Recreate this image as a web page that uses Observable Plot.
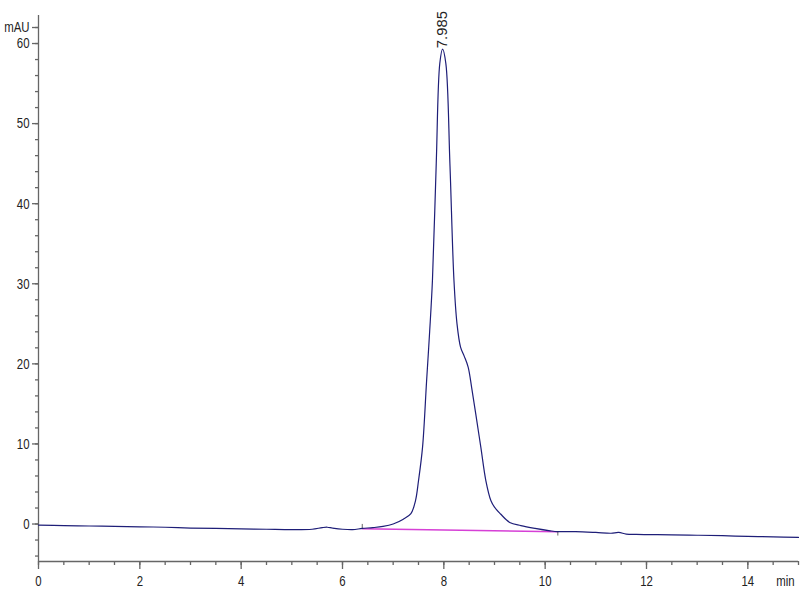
<!DOCTYPE html>
<html>
<head>
<meta charset="utf-8">
<script src="https://cdn.jsdelivr.net/npm/d3@7"></script>
<script src="https://cdn.jsdelivr.net/npm/@observablehq/plot@0.6"></script>
<style>
  html, body { margin: 0; padding: 0; background: #fff; }
  #chart svg { display: block; }
</style>
</head>
<body>
<div id="chart"></div>
<script>
// Retention time (min) and absorbance (mAU)
const times = [0, 0.5, 1.0, 1.5, 2.0, 2.5, 3.0, 3.5, 4.0, 4.5, 5.0, 5.4, 5.6, 5.7, 5.8, 6.0, 6.2, 6.39, 6.6, 6.8, 7.0, 7.2, 7.35, 7.44, 7.5, 7.58, 7.66, 7.72, 7.775, 7.85, 7.92, 7.975, 8.04, 8.12, 8.2, 8.26, 8.33, 8.4, 8.48, 8.55, 8.63, 8.73, 8.83, 8.93, 9.0, 9.12, 9.3, 9.52, 9.8, 10.1, 10.25, 10.6, 11.0, 11.3, 11.45, 11.6, 11.8, 12.5, 13.0, 13.5, 14.0, 14.5, 15.0];
const absorbance = [-0.13, -0.2, -0.25, -0.3, -0.35, -0.4, -0.5, -0.55, -0.6, -0.65, -0.7, -0.65, -0.45, -0.4, -0.5, -0.65, -0.7, -0.55, -0.45, -0.3, 0.0, 0.6, 1.3, 2.9, 5.4, 9.6, 17.9, 24, 30.4, 45, 57.5, 59.3, 57.5, 45, 30.4, 25, 22.1, 21, 19.6, 17, 13.75, 9.6, 5.4, 2.9, 2.1, 1.25, 0.2, -0.2, -0.55, -0.85, -0.95, -0.95, -1.05, -1.15, -1.05, -1.25, -1.3, -1.35, -1.4, -1.45, -1.55, -1.6, -1.67];

// Integration baseline (start / end of peak)
const baselineTimes = [6.39, 10.25];
const baselineValues = [-0.6, -0.95];

// Peak annotation
const peakLabel = "7.985";
const peakTime = 7.975;
const peakValue = 59.3;

// Axis ticks
const xMajorTicks = [0, 2, 4, 6, 8, 10, 12, 14];
const xMinorTicks = d3.range(0, 15.01, 0.5);
const yMajorTicks = [0, 10, 20, 30, 40, 50, 60];
const yMinorTicks = d3.range(-4, 63, 2);
const xUnit = "min";
const yUnit = "mAU";

const trace = times.map((t, i) => ({t, v: absorbance[i]}));
const baseline = baselineTimes.map((t, i) => ({t, v: baselineValues[i]}));

const font = "'Liberation Sans', Arial, sans-serif";
const yMin = -4.68, yMax = 63.5;
const axisStroke = "#666";

const chart = Plot.plot({
  width: 800,
  height: 600,
  marginLeft: 38,
  marginRight: 2,
  marginTop: 15,
  marginBottom: 39,
  style: {fontFamily: font, fontSize: "15px", color: "#222", background: "#fff"},
  x: {domain: [0, 15], label: null},
  y: {domain: [yMin, yMax], label: null},
  marks: [
    // axis lines
    Plot.ruleX([0], {stroke: axisStroke, strokeWidth: 1.3}),
    Plot.ruleY([yMin], {stroke: axisStroke, strokeWidth: 1.3}),
    // y axis ticks
    Plot.axisY({ticks: yMinorTicks, tickSize: 3, text: null, stroke: axisStroke, strokeWidth: 1.3, label: null}),
    Plot.axisY({ticks: yMajorTicks, tickSize: 6, tickPadding: 3, stroke: axisStroke, strokeWidth: 1.3, label: null, fill: "#222", fontSize: 15, className: "lbl"}),
    Plot.axisY({ticks: [62], tickSize: 6, tickPadding: 3, tickFormat: () => yUnit, stroke: axisStroke, strokeWidth: 1.3, label: null, fill: "#222", fontSize: 15, className: "lbl"}),
    // x axis ticks
    Plot.axisX({ticks: xMinorTicks, tickSize: 4, text: null, stroke: axisStroke, strokeWidth: 1.3, label: null}),
    Plot.axisX({ticks: xMajorTicks, tickSize: 8, tickPadding: 6, stroke: axisStroke, strokeWidth: 1.3, label: null, fill: "#222", fontSize: 15, className: "lbl"}),
    Plot.text([xUnit], {x: 15, y: yMin, text: d => d, textAnchor: "end", dx: -4, dy: 20, fill: "#222", fontSize: 15, className: "lbl"}),
    // baseline
    Plot.line(baseline, {x: "t", y: "v", stroke: "#d640d6", strokeWidth: 1.5}),
    Plot.ruleX(baseline.slice(0, 1), {x: "t", y1: d => d.v, y2: d => d.v + 0.55, stroke: axisStroke, strokeWidth: 1}),
    Plot.ruleX(baseline.slice(1), {x: "t", y1: d => d.v, y2: d => d.v - 0.55, stroke: axisStroke, strokeWidth: 1}),
    // chromatogram trace
    Plot.line(trace, {x: "t", y: "v", stroke: "#1e1e78", strokeWidth: 1.2, curve: "catmull-rom"}),
    // peak label
    Plot.text([peakLabel], {x: peakTime, y: peakValue, text: d => d, rotate: -90, textAnchor: "start", dy: -1, fill: "#222", fontSize: 14, className: "peak"})
  ]
});
document.getElementById("chart").appendChild(chart);

// the reference uses a narrow typeface: compress horizontal tick labels
chart.querySelectorAll(".lbl text").forEach(el => {
  const len = el.getComputedTextLength();
  if (len > 0) {
    el.setAttribute("textLength", (len * 0.76).toFixed(2));
    el.setAttribute("lengthAdjust", "spacingAndGlyphs");
  }
});
// the rotated peak label is drawn at full length, as in the reference
chart.querySelectorAll(".peak text").forEach(el => {
  el.setAttribute("textLength", "37");
  el.setAttribute("lengthAdjust", "spacingAndGlyphs");
});
</script>
</body>
</html>
